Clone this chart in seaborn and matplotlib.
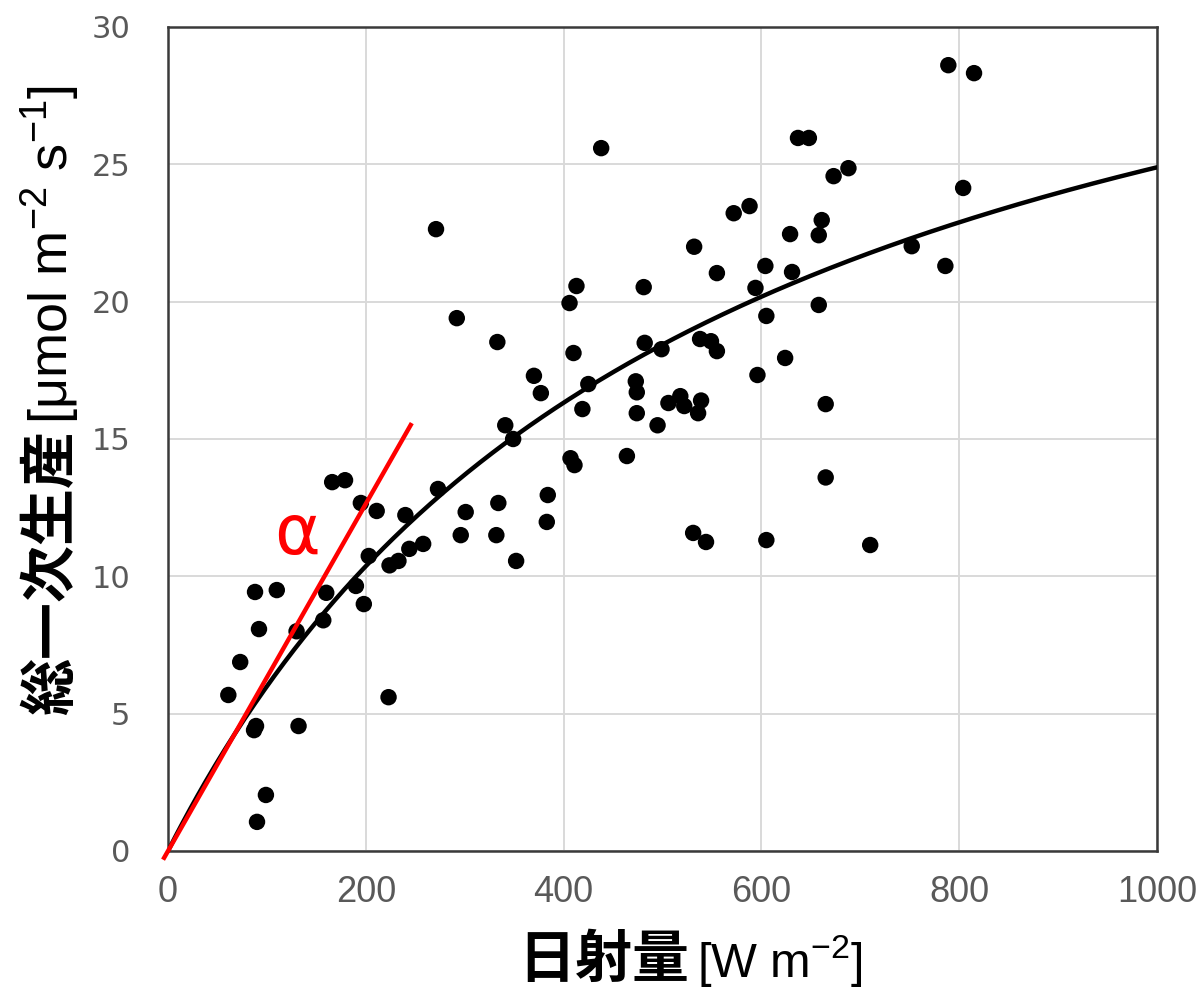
import numpy as np
import pandas as pd
import matplotlib
matplotlib.use("Agg")
import matplotlib.pyplot as plt
import seaborn as sns

# Observed radiation (W m-2) and gross primary production (umol m-2 s-1)
radiation = [61, 73, 88, 92, 110, 87, 89, 132, 99, 90, 130, 157, 160, 166, 179,
             195, 211, 240, 190, 198, 203, 223, 224, 233, 244, 258, 273, 271,
             292, 296, 301, 333, 334, 332, 341, 349, 352, 370, 377, 383, 384,
             406, 413, 410, 407, 411, 419, 425, 438, 464, 473, 474, 474, 481,
             482, 495, 499, 506, 518, 522, 532, 536, 538, 539, 549, 555, 555,
             531, 544, 572, 588, 594, 596, 604, 605, 605, 624, 629, 631, 637,
             648, 658, 661, 658, 665, 665, 673, 688, 710, 752, 786, 789, 815, 804]
gpp = [5.68, 6.88, 9.43, 8.08, 9.50, 4.40, 4.55, 4.55, 2.04, 1.06, 8.00, 8.40,
       9.40, 13.43, 13.50, 12.67, 12.38, 12.23, 9.65, 8.99, 10.74, 5.60, 10.40,
       10.56, 11.00, 11.18, 13.18, 22.64, 19.40, 11.50, 12.34, 18.53, 12.67,
       11.50, 15.50, 15.00, 10.56, 17.30, 16.67, 11.98, 12.96, 19.95, 20.57,
       18.13, 14.30, 14.05, 16.09, 17.00, 25.59, 14.38, 17.10, 16.70, 15.94,
       20.53, 18.50, 15.50, 18.27, 16.31, 16.56, 16.20, 22.00, 15.94, 18.64,
       16.40, 18.56, 18.20, 21.04, 11.58, 11.25, 23.22, 23.48, 20.50, 17.33,
       21.30, 19.48, 11.32, 17.95, 22.46, 21.08, 25.96, 25.96, 22.42, 22.97,
       19.88, 16.27, 13.60, 24.57, 24.86, 11.14, 22.02, 21.30, 28.61, 28.32, 24.14]

# Light-response curve (rectangular hyperbola) parameters
curve_alpha = 0.0711
curve_pmax = 38.3
# Initial slope line labelled alpha
slope_alpha = 0.0632
slope_x = [-5, 246.5]

x_ticks = [0, 200, 400, 600, 800, 1000]
y_ticks = [0, 5, 10, 15, 20, 25, 30]

xlabel_main, xlabel_unit = "日射量", r"[W m$^{-2}$]"
ylabel_main, ylabel_unit = "総一次生産", r"[μmol m$^{-2}$ s$^{-1}$]"

obs = pd.DataFrame({"radiation": radiation, "gpp": gpp})
xs = np.linspace(0, 1000, 400)
fit = pd.DataFrame({"radiation": xs,
                    "gpp": curve_alpha * xs * curve_pmax / (curve_alpha * xs + curve_pmax)})

sns.set_theme(style="whitegrid")
cjk = ["Noto Sans CJK JP", "DejaVu Sans"]
latin = ["Liberation Sans", "DejaVu Sans"]
plt.rcParams["font.family"] = cjk
plt.rcParams["mathtext.fontset"] = "custom"
plt.rcParams["mathtext.rm"] = "Liberation Sans"
plt.rcParams["mathtext.it"] = "Liberation Sans"
plt.rcParams["mathtext.bf"] = "Liberation Sans:bold"

W, H = 1201, 991
fig = plt.figure(figsize=(W / 100, H / 100), dpi=100)
ax = fig.add_axes([168 / W, 1 - 851 / H, (1157 - 168) / W, (851 - 27) / H])
ax.set_facecolor("white")

sns.lineplot(data=fit, x="radiation", y="gpp", ax=ax, color="black", lw=3.2, zorder=3)
sns.scatterplot(data=obs, x="radiation", y="gpp", ax=ax, color="black", s=140,
                edgecolor="none", zorder=4)
ax.plot(slope_x, [slope_alpha * v for v in slope_x], color="#ff0000", lw=3.2,
        zorder=5, clip_on=False, solid_capstyle="butt")
ax.text(131, 10.8, "α", color="#ff0000", fontsize=50, ha="center", va="baseline",
        family=["DejaVu Sans"], zorder=6)

ax.set_xlim(0, 1000)
ax.set_ylim(0, 30)
ax.set_xticks(x_ticks)
ax.set_yticks(y_ticks)
ax.grid(True, color="#d9d9d9", lw=1.4)
ax.tick_params(axis="both", length=0)
ax.tick_params(axis="x", pad=17)
ax.tick_params(axis="y", pad=27)
for lab in ax.get_xticklabels():
    lab.set_family(latin)
    lab.set_fontsize(26)
    lab.set_color("#595959")
for lab in ax.get_yticklabels():
    lab.set_family(["DejaVu Sans"])
    lab.set_fontsize(22)
    lab.set_color("#595959")

for side in ["left", "right", "top", "bottom"]:
    ax.spines[side].set_visible(True)
    ax.spines[side].set_color("#3a3a3a")
    ax.spines[side].set_linewidth(1.8)

ax.set_xlabel("")
ax.set_ylabel("")

# Axis titles: bold Japanese part followed by the unit in a plain face
renderer = fig.canvas.get_renderer()
xt = fig.text(518 / W, 1 - 977 / H, xlabel_main, fontsize=41, fontweight="bold",
              family=cjk, ha="left", va="baseline", color="black")
ext = xt.get_window_extent(renderer)
fig.text((ext.x1 + 8) / W, 1 - 977 / H, xlabel_unit, fontsize=35, family=latin,
         ha="left", va="baseline", color="black")

yt = fig.text(68 / W, 1 - 715 / H, ylabel_main, fontsize=41, fontweight="bold",
              family=cjk, rotation=90, rotation_mode="anchor", ha="left",
              va="baseline", color="black")
ext = yt.get_window_extent(renderer)
fig.text(68 / W, (ext.y1 + 6) / H, ylabel_unit, fontsize=39, family=latin,
         rotation=90, rotation_mode="anchor", ha="left", va="baseline", color="black")

fig.savefig("out.png", dpi=100, facecolor="white")
